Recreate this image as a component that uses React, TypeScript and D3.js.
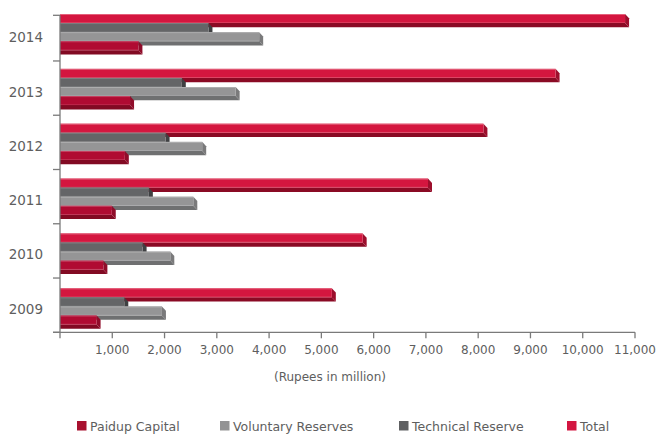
import React from 'react';
import * as d3 from 'd3';

const years = ['2014', '2013', '2012', '2011', '2010', '2009'];
const paidup = [1500, 1340, 1240, 990, 830, 700];
const voluntary = [3810, 3360, 2720, 2550, 2110, 1950];
const technical = [2840, 2330, 2020, 1700, 1580, 1230];
const total = [10810, 9480, 8100, 7040, 5790, 5200];
const xTicks = [1000, 2000, 3000, 4000, 5000, 6000, 7000, 8000, 9000, 10000, 11000];

const seriesNames = ['Total', 'Technical Reserve', 'Voluntary Reserves', 'Paidup Capital'];
const seriesValues = [total, technical, voluntary, paidup];
const legendOrder = ['Paidup Capital', 'Voluntary Reserves', 'Technical Reserve', 'Total'];

const styles: Record<string, { face: string; bottom: string; side: string; hi: string; legend: string }> = {
  'Total': { face: '#D4163F', bottom: '#8A0A24', side: '#9C0E2C', hi: '#E4607A', legend: '#D31641' },
  'Technical Reserve': { face: '#646567', bottom: '#48494B', side: '#3F4042', hi: '#7E7F81', legend: '#5F6062' },
  'Voluntary Reserves': { face: '#959596', bottom: '#6F7071', side: '#7A7A7B', hi: '#AEAEAF', legend: '#939394' },
  'Paidup Capital': { face: '#B00B32', bottom: '#820A23', side: '#900C2A', hi: '#C84464', legend: '#A8112F' },
};

const FONT = '"DejaVu Sans", Verdana, sans-serif';
const TXT = '#5e5e5e';

export default function App() {
  const W = 657, H = 437;
  const x0 = 60, x1 = 635, yTop = 6.7, yBot = 332.3, axisTop = 15.3;
  const x = d3.scaleLinear().domain([0, 11000]).range([x0, x1]);
  // category bands (axis ticks / labels)
  const y = d3.scaleBand<string>().domain(years).range([yTop, yBot]);
  // projected bar bands (3D bars drift slightly from the axis bands)
  const yBar = d3.scaleBand<string>().domain(years).range([14, 14 + 6 * 54.86]);
  const faceH = 9, dx = 4, dy = 4.3;
  const inner = d3.scaleBand<string>().domain(seriesNames).range([0, faceH * 4 + 0.3]);

  const bars: JSX.Element[] = [];
  years.forEach((yr, i) => {
    seriesNames.forEach((s, k) => {
      const v = seriesValues[k][i];
      const st = styles[s];
      const xe = x(v);
      const t = (yBar(yr) as number) + (inner(s) as number);
      const b = t + faceH;
      bars.push(
        <g key={yr + s}>
          <polygon points={`${x0},${b} ${xe},${b} ${xe + dx},${b + dy} ${x0},${b + dy}`} fill={st.bottom} />
          <polygon points={`${xe},${t} ${xe + dx},${t + dy} ${xe + dx},${b + dy} ${xe},${b}`} fill={st.side} />
          <rect x={x0} y={t} width={xe - x0} height={faceH} fill={st.face} />
          <rect x={x0} y={t} width={xe - x0} height={1} fill={st.hi} />
          <rect x={x0} y={b - 0.8} width={xe - x0} height={0.8} fill={st.hi} opacity={0.6} />
        </g>
      );
    });
  });

  const legendX = [77, 220, 399, 567];
  const yTickPos = [axisTop, ...years.slice(1).map((yr) => y(yr) as number), yBot];

  return (
    <svg width={W} height={H} style={{ position: 'absolute', left: 0, top: 0, background: '#fff' }} fontFamily={FONT}>
      {bars}
      {/* y axis */}
      <line x1={x0} y1={axisTop} x2={x0} y2={yBot + 6} stroke="#7a7a7a" strokeWidth={1.3} />
      {yTickPos.map((ty, i) => (
        <line key={'yt' + i} x1={x0 - 7} y1={ty} x2={x0} y2={ty} stroke="#7a7a7a" strokeWidth={1.3} />
      ))}
      {years.map((yr) => (
        <text key={'yl' + yr} x={43} y={(y(yr) as number) + y.bandwidth() / 2 + 3.4} textAnchor="end" dominantBaseline="central" fontSize={13.5} fill={TXT}>
          {yr}
        </text>
      ))}
      {/* x axis */}
      <line x1={x0 - 7} y1={yBot} x2={x1} y2={yBot} stroke="#7a7a7a" strokeWidth={1.3} />
      {xTicks.map((tv) => (
        <g key={'xt' + tv}>
          <line x1={x(tv)} y1={yBot} x2={x(tv)} y2={yBot + 6} stroke="#7a7a7a" strokeWidth={1.3} />
          <text x={x(tv)} y={yBot + 18} textAnchor="middle" dominantBaseline="central" fontSize={12} fill={TXT}>
            {d3.format(',')(tv)}
          </text>
        </g>
      ))}
      <text x={330} y={377} textAnchor="middle" dominantBaseline="central" fontSize={12} fill={TXT}>
        (Rupees in million)
      </text>
      {/* legend */}
      {legendOrder.map((s, i) => (
        <g key={'lg' + s}>
          <rect x={legendX[i]} y={421} width={9.5} height={9.5} fill={styles[s].legend} />
          <text x={legendX[i] + 13} y={426} dominantBaseline="central" fontSize={12.5} fill={TXT}>
            {s}
          </text>
        </g>
      ))}
    </svg>
  );
}
